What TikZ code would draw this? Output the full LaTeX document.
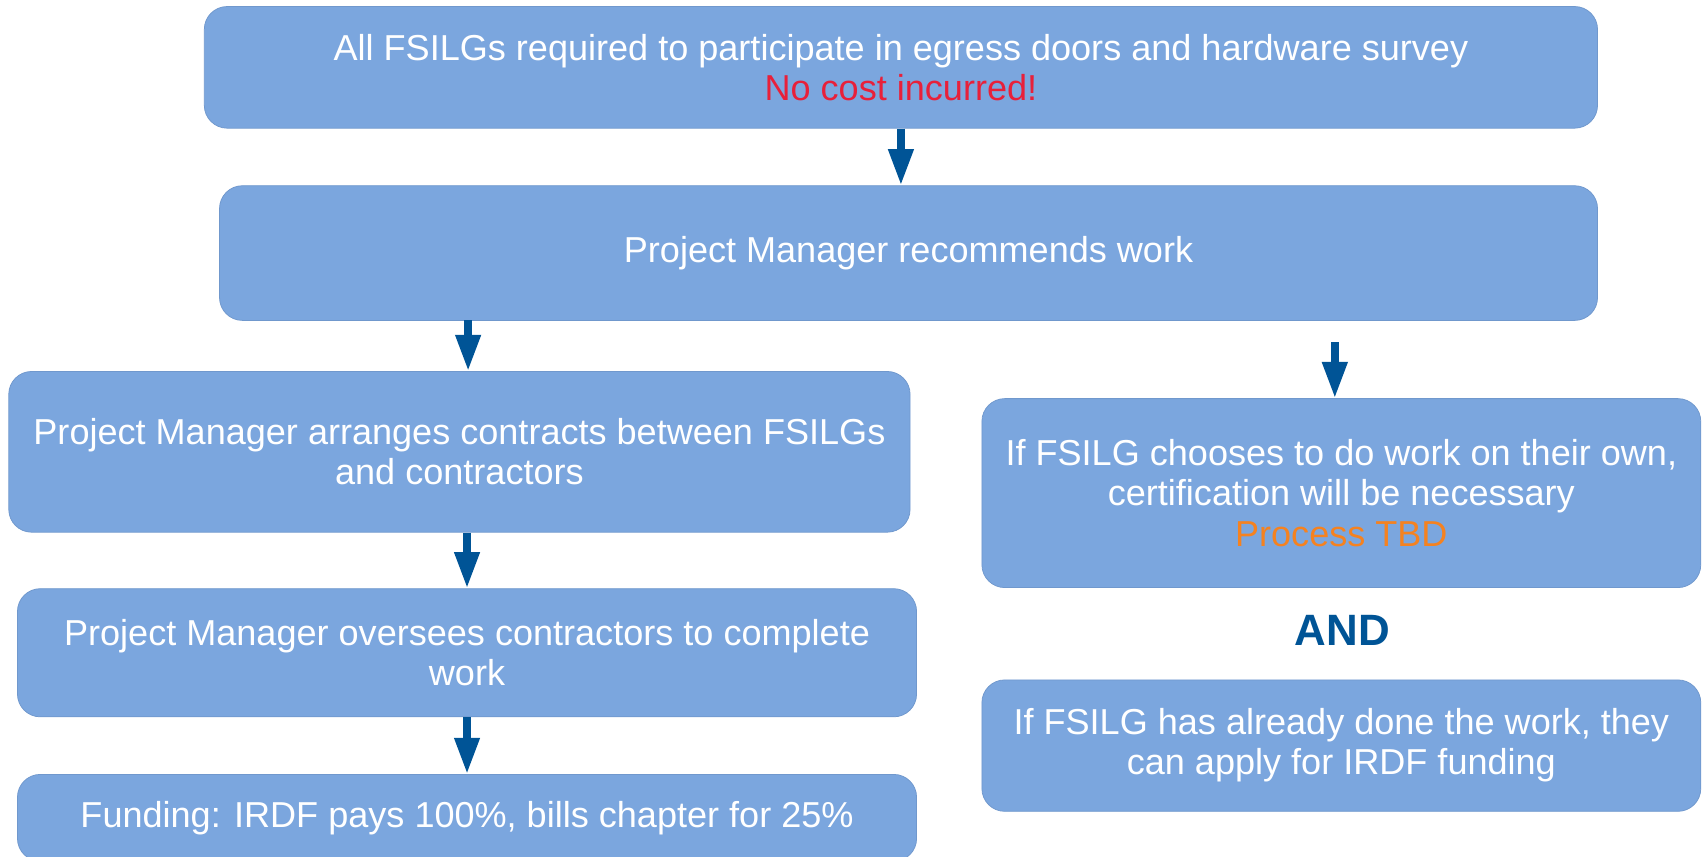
\documentclass[tikz,border=0pt]{standalone}
\usepackage{fontspec}
\setmainfont{Liberation Sans}
\usetikzlibrary{arrows.meta,calc}
\definecolor{boxfill}{RGB}{123,166,222}
\definecolor{boxline}{RGB}{112,152,205}
\definecolor{arrowblue}{RGB}{0,84,150}
\definecolor{noteRed}{RGB}{232,32,58}
\definecolor{noteOrange}{RGB}{245,130,32}
\tikzset{
  box/.style={rectangle, rounded corners=0.42cm, fill=boxfill, draw=boxline, line width=0.4pt,
    text=white, align=center, inner sep=0pt,
    font=\fontsize{18.9pt}{21pt}\selectfont},
  flowarrow/.style={draw=arrowblue, line width=4pt,
    -{Triangle[width=12.5pt,length=19pt]}, arrowblue},
  andlabel/.style={text=arrowblue, font=\fontsize{23pt}{27pt}\selectfont\bfseries}
}
\begin{document}
\begin{tikzpicture}[x=0.02cm,y=-0.02cm]
\useasboundingbox (0,0) rectangle (1568,789);
\node[box, minimum width=25.66cm, minimum height=2.24cm] (top) at (829.5,62)
  {All FSILGs required to participate in egress doors and hardware survey\\
   \textcolor{noteRed}{No cost incurred!}};
\node[box, minimum width=25.38cm, minimum height=2.48cm] (pm) at (836.5,233)
  {Project Manager recommends work};
\node[box, minimum width=16.6cm, minimum height=2.96cm] (arr) at (423,416)
  {Project Manager arranges contracts between FSILGs\\and contractors};
\node[box, minimum width=16.56cm, minimum height=2.36cm] (ovs) at (430,601)
  {Project Manager oversees contractors to complete\\work};
\node[box, minimum width=16.56cm, minimum height=1.6cm] (fund) at (430,753)
  {Funding: IRDF pays 100\%, bills chapter for 25\%};
\node[box, minimum width=13.24cm, minimum height=3.48cm] (own) at (1235,454)
  {If FSILG chooses to do work on their own,\\certification will be necessary\\
   \textcolor{noteOrange}{Process TBD}};
\node[andlabel] (and) at (1236,580) {AND};
\node[box, minimum width=13.24cm, minimum height=2.42cm] (done) at (1235,686.5)
  {If FSILG has already done the work, they\\can apply for IRDF funding};
\coordinate (r3) at (1229,315);
\coordinate (l2) at (431,295);
\draw[flowarrow] (top.south) -- (top.south |- pm.north);
\draw[flowarrow] (l2) -- (l2 |- arr.north);
\draw[flowarrow] (r3) -- (r3 |- own.north);
\draw[flowarrow] (ovs.north |- arr.south) -- (ovs.north);
\draw[flowarrow] (ovs.south) -- (fund.north);
\end{tikzpicture}
\end{document}
